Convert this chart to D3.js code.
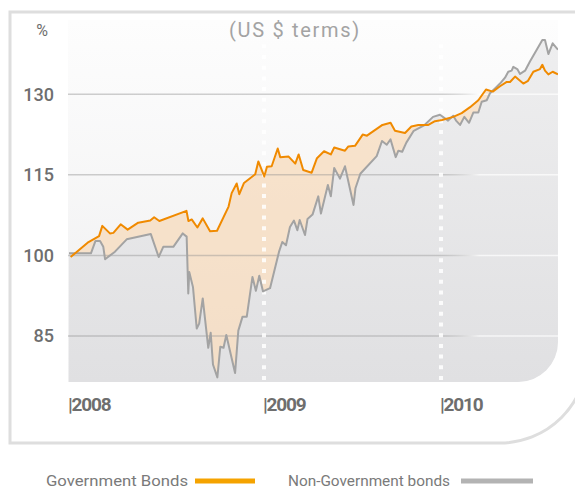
<!DOCTYPE html>
<html>
<head>
<meta charset="utf-8">
<title>bonds</title>
<script src="https://cdn.jsdelivr.net/npm/d3@7/dist/d3.min.js"></script>
<style>
  body { margin: 0; background: #fff; }
  svg { display: block; font-family: Roboto, "Liberation Sans", sans-serif; }
</style>
</head>
<body>
<svg width="575" height="490" id="mainsvg"></svg>
<script>
// months counted from Jan 2008, values indexed (start = 100)
const govMonths = [0.1, 1.2, 1.85, 2.05, 2.52, 2.73, 3.18, 3.61, 4.26, 5.0, 5.24, 5.56, 7.23, 7.35, 7.55, 7.9, 8.23, 8.68, 9.11, 9.82, 10.01, 10.32, 10.48, 10.77, 11.46, 11.65,
  12.02, 12.2, 12.52, 12.93, 13.1, 13.67, 14.12, 14.35, 14.66, 15.23, 15.59, 16.07, 16.53, 16.76, 17.49, 17.72, 18.17, 18.69, 18.98, 20.03, 20.58, 20.88, 21.56, 21.99, 22.46, 23.14, 23.59,
  24.07, 24.83, 25.4, 25.97, 26.53, 27.05, 27.51, 28.0, 28.46, 28.68, 29.02, 29.58, 29.9, 30.26, 30.71, 30.87, 31.05, 31.28, 31.57, 31.93];
const govValues = [99.7, 102.5, 103.6, 105.5, 104.1, 104.2, 105.8, 104.8, 106.1, 106.5, 107.1, 106.4, 108.3, 106.4, 106.7, 105.2, 106.9, 104.5, 104.6, 109.1, 111.6, 113.4, 111.4, 113.5, 115.1, 117.5,
  114.7, 116.5, 116.6, 119.9, 118.3, 118.4, 117.1, 118.8, 115.9, 115.4, 118.1, 119.4, 118.8, 120.1, 119.5, 120.3, 120.4, 122.5, 122.3, 124.3, 124.7, 123.2, 122.8, 124.0, 124.3, 124.3, 125.0,
  125.2, 125.8, 126.5, 127.6, 128.9, 130.9, 130.5, 131.5, 132.3, 132.3, 133.3, 132.0, 132.5, 134.2, 134.7, 135.5, 134.4, 133.7, 134.2, 133.7];

const nonGovMonths = [0, 1.35, 1.63, 1.91, 2.11, 2.22, 2.83, 3.55, 5.03, 5.52, 5.8, 6.42, 7.0, 7.24, 7.34, 7.4, 7.63, 7.86, 8.01, 8.23, 8.57, 8.72, 8.86, 9.13, 9.31, 9.51, 9.68, 10.22, 10.42, 10.68, 10.94, 11.29, 11.5, 11.71, 11.94,
  12.41, 13.02, 13.24, 13.49, 13.76, 14.03, 14.26, 14.42, 14.78, 14.95, 15.29, 15.68, 15.86, 16.33, 16.53, 16.76, 17.15, 17.49, 18.07, 18.2, 18.53, 19.64, 20.0, 20.32, 20.58, 20.93, 21.11, 21.37, 21.65, 22.15, 22.85, 23.46, 23.93,
  24.48, 24.83, 25.02, 25.29, 25.58, 25.9, 26.19, 26.53, 26.76, 27.1, 27.32, 27.66, 28.0, 28.34, 28.56, 28.79, 28.9, 29.17, 29.36, 29.7, 30.03, 30.49, 30.87, 31.05, 31.28, 31.57, 31.93];
const nonGovValues = [100.4, 100.4, 102.7, 102.7, 101.6, 99.3, 100.7, 103.0, 104.0, 99.7, 101.6, 101.6, 104.1, 103.5, 92.9, 96.9, 94.1, 86.4, 87.3, 92.0, 82.8, 85.6, 79.7, 77.3, 83.0, 82.8, 85.2, 78.1, 86.0, 88.6, 88.6, 96.0, 93.4, 96.2, 93.3,
  93.9, 100.7, 102.5, 101.9, 105.3, 106.5, 104.7, 106.6, 103.8, 106.8, 107.6, 111.0, 107.8, 113.1, 111.0, 116.3, 114.3, 116.6, 109.4, 112.5, 115.2, 118.5, 121.3, 120.6, 121.6, 118.3, 119.5, 119.3, 121.0, 123.2, 124.2, 125.8, 126.2,
  125.1, 126.0, 125.1, 124.3, 125.8, 124.7, 126.6, 126.6, 128.6, 128.9, 130.2, 131.1, 132.0, 133.1, 134.2, 134.4, 135.1, 134.7, 133.8, 134.4, 136.1, 138.3, 140.1, 140.1, 137.5, 139.5, 138.3];

const yTicks = [85, 100, 115, 130];
const yearMonths = [0, 12, 24];
const yearLabels = ["2008", "2009", "2010"];
const seriesNames = ["Government Bonds", "Non-Government bonds"];
const subtitle = "(US $ terms)";

const svg = d3.select("#mainsvg");
const panel = { left: 68, right: 558, top: 20, bottom: 382, r: 40 };

const x = d3.scaleLinear().domain(yearMonths).range([69, 264, 441]);
const y = d3.scaleLinear().domain([85, 130]).range([336, 94.3]);

const gov = govMonths.map((m, i) => [m, govValues[i]]);
const nonGov = nonGovMonths.map((m, i) => [m, nonGovValues[i]]);

const defs = svg.append("defs");

// gradients
const bg = defs.append("linearGradient").attr("id", "bgGrad")
  .attr("gradientUnits", "userSpaceOnUse").attr("x1", 0).attr("x2", 0).attr("y1", panel.top).attr("y2", panel.bottom);
bg.append("stop").attr("offset", 0).attr("stop-color", "#fdfdfd");
bg.append("stop").attr("offset", 1).attr("stop-color", "#efeff0");

const under = defs.append("linearGradient").attr("id", "underGrad")
  .attr("gradientUnits", "userSpaceOnUse").attr("x1", 0).attr("x2", 0).attr("y1", 40).attr("y2", panel.bottom);
under.append("stop").attr("offset", 0).attr("stop-color", "#eeeeef");
under.append("stop").attr("offset", 1).attr("stop-color", "#e0e0e2");

const gridGrad = defs.append("linearGradient").attr("id", "gridGrad")
  .attr("gradientUnits", "userSpaceOnUse").attr("x1", panel.left).attr("x2", panel.right).attr("y1", 0).attr("y2", 0);
gridGrad.append("stop").attr("offset", 0).attr("stop-color", "#8c8c8c").attr("stop-opacity", 0.42);
gridGrad.append("stop").attr("offset", 0.76).attr("stop-color", "#8c8c8c").attr("stop-opacity", 0.38);
gridGrad.append("stop").attr("offset", 0.84).attr("stop-color", "#ffffff").attr("stop-opacity", 0.7);
gridGrad.append("stop").attr("offset", 1).attr("stop-color", "#ffffff").attr("stop-opacity", 0.7);

const panelPath = `M${panel.left},${panel.top}H${panel.right}V${panel.bottom - panel.r}` +
  `A${panel.r},${panel.r} 0 0 1 ${panel.right - panel.r},${panel.bottom}H${panel.left}Z`;

defs.append("clipPath").attr("id", "panelClip").append("path").attr("d", panelPath);

// region below the government line
const belowGov = d3.area().x(d => x(d[0])).y0(panel.bottom).y1(d => y(d[1]));
defs.append("clipPath").attr("id", "govClip").append("path").attr("d", belowGov(gov));

// outer frame
svg.append("path")
  .attr("d", "M10,12H587V356A87,87 0 0 1 500,443H10Z")
  .attr("fill", "none").attr("stroke", "#dedede").attr("stroke-width", 3);

const g = svg.append("g").attr("clip-path", "url(#panelClip)");
g.append("path").attr("d", panelPath).attr("fill", "url(#bgGrad)");

// grey area under non-government line
g.append("path")
  .datum(nonGov)
  .attr("fill", "url(#underGrad)")
  .attr("d", d3.area().x(d => x(d[0])).y0(panel.bottom).y1(d => y(d[1])));

// peach band where government bonds are above
g.append("path")
  .datum(nonGov)
  .attr("clip-path", "url(#govClip)")
  .attr("fill", "#f7d4ad").attr("fill-opacity", 0.6)
  .attr("d", d3.area().x(d => x(d[0])).y0(panel.top).y1(d => y(d[1])));

// gridlines
g.selectAll(".grid").data(yTicks).join("line")
  .attr("class", "grid")
  .attr("x1", panel.left).attr("x2", panel.right)
  .attr("y1", d => y(d)).attr("y2", d => y(d))
  .attr("stroke", "url(#gridGrad)").attr("stroke-width", 1.5);

// dotted year markers
g.selectAll(".yearLine").data(yearMonths.slice(1)).join("line")
  .attr("class", "yearLine")
  .attr("x1", d => x(d)).attr("x2", d => x(d))
  .attr("y1", 380).attr("y2", 42)
  .attr("stroke", "#ffffff").attr("stroke-opacity", 0.85)
  .attr("stroke-width", 4).attr("stroke-dasharray", "4,6.7");

const line = d3.line().x(d => x(d[0])).y(d => y(d[1]));
g.append("path").datum(nonGov).attr("d", line)
  .attr("fill", "none").attr("stroke", "#a3a3a3").attr("stroke-width", 2).attr("stroke-linejoin", "round");
g.append("path").datum(gov).attr("d", line)
  .attr("fill", "none").attr("stroke", "#f08a00").attr("stroke-width", 2).attr("stroke-linejoin", "round");

// y labels
svg.selectAll(".ylab").data(yTicks).join("text")
  .attr("class", "ylab")
  .attr("x", 54).attr("y", d => y(d)).attr("dy", "0.36em")
  .attr("text-anchor", "end")
  .attr("font-size", 18).attr("font-weight", 500).attr("fill", "#6e6e6e")
  .text(d => d);

svg.append("text").attr("x", 42).attr("y", 36).attr("text-anchor", "middle")
  .attr("font-size", 16).attr("fill", "#6e6e6e").text("%");

svg.append("text").attr("x", 295).attr("y", 37).attr("text-anchor", "middle")
  .attr("font-size", 20).attr("letter-spacing", 1.7).attr("fill", "#a3a3a3").text(subtitle);

// year labels
svg.selectAll(".xlab").data(yearMonths).join("text")
  .attr("class", "xlab")
  .attr("x", d => x(d) - 1).attr("y", 411)
  .attr("font-size", 19).attr("font-weight", "bold").attr("letter-spacing", -1.2)
  .attr("font-family", "'Liberation Sans Narrow', Roboto, sans-serif")
  .attr("fill", "#6e6e6e")
  .text((d, i) => "|" + yearLabels[i]);

// legend
const legend = [
  { name: seriesNames[0], tx: 46, tw: 142, bx: 195, bw: 60, color: "#f5a300" },
  { name: seriesNames[1], tx: 288, tw: 162, bx: 461, bw: 72, color: "#b3b3b3" }
];
legend.forEach(l => {
  svg.append("text").attr("x", l.tx).attr("y", 486)
    .attr("font-size", 15.5).attr("fill", "#7a7a7a")
    .attr("textLength", l.tw).attr("lengthAdjust", "spacingAndGlyphs")
    .text(l.name);
  svg.append("rect").attr("x", l.bx).attr("y", 478.5).attr("width", l.bw).attr("height", 5)
    .attr("fill", l.color);
});
</script>
</body>
</html>
